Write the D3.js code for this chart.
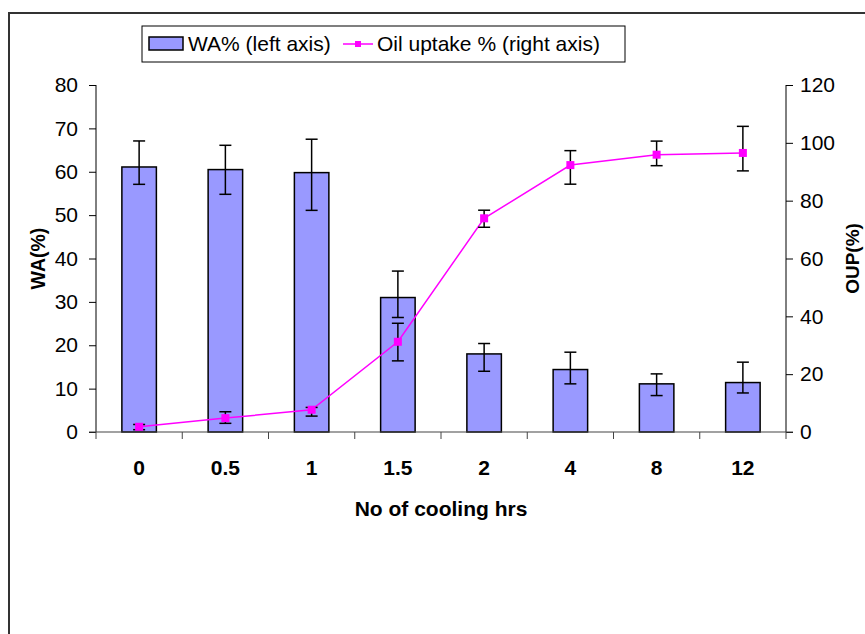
<!DOCTYPE html>
<html>
<head>
<meta charset="utf-8">
<script src="https://cdn.jsdelivr.net/npm/d3@7"></script>
<style>
  html, body { margin: 0; padding: 0; background: #fff; }
  svg { display: block; }
  text { font-family: Arial, "Liberation Sans", sans-serif; }
</style>
</head>
<body>
<script>
// ---- data ----
const categories = ["0", "0.5", "1", "1.5", "2", "4", "8", "12"];
const waValues = [61.1, 60.5, 59.8, 31.0, 18.0, 14.4, 11.1, 11.4];
const waErrPlus = [6.0, 5.6, 7.7, 6.1, 2.4, 4.0, 2.3, 4.7];
const waErrMinus = [4.0, 5.7, 8.7, 4.6, 4.0, 3.3, 2.7, 2.4];
const oupValues = [1.8, 4.8, 7.7, 31.2, 73.9, 92.3, 95.9, 96.5];
const oupErrPlus = [0.8, 2.2, 0.8, 6.4, 2.8, 5.0, 4.7, 9.2];
const oupErrMinus = [1.0, 1.8, 2.2, 6.6, 3.1, 6.6, 3.8, 6.2];
const leftTicks = [0, 10, 20, 30, 40, 50, 60, 70, 80];
const rightTicks = [0, 20, 40, 60, 80, 100, 120];
const legendLabels = ["WA% (left axis)", "Oil uptake % (right axis)"];
const xTitle = "No of cooling hrs";
const yLeftTitle = "WA(%)";
const yRightTitle = "OUP(%)";

// ---- layout ----
const W = 865, H = 634;
const plot = { left: 96, right: 786, top: 85, bottom: 432 };
const barColor = "#9999FF", lineColor = "#FF00FF";
const FS = 21;

const svg = d3.select("body").append("svg").attr("width", W).attr("height", H);

// outer frame (extends past right/bottom edges)
svg.append("path")
  .attr("d", `M9,${H + 5} L9,13 L${W + 5},13`)
  .attr("fill", "none").attr("stroke", "#333").attr("stroke-width", 2);

const xc = d3.scaleBand().domain(categories).range([plot.left, plot.right]).padding(0);
const yL = d3.scaleLinear().domain([0, 80]).range([plot.bottom, plot.top]);
const yR = d3.scaleLinear().domain([0, 120]).range([plot.bottom, plot.top]);
const cx = d => xc(d) + xc.bandwidth() / 2;
const bw = xc.bandwidth() * 0.4;

// bars
svg.append("g").selectAll("rect").data(categories).join("rect")
  .attr("x", d => cx(d) - bw / 2)
  .attr("y", (d, i) => yL(waValues[i]))
  .attr("width", bw)
  .attr("height", (d, i) => yL(0) - yL(waValues[i]))
  .attr("fill", barColor).attr("stroke", "#000").attr("stroke-width", 1.5);

// axes
const axisStyle = g => {
  g.selectAll("path").attr("stroke", "#000");
  g.selectAll("line").attr("stroke", "#000");
  g.selectAll("text").attr("font-size", FS).attr("fill", "#000");
};
svg.append("g").attr("transform", `translate(${plot.left},0)`)
  .call(d3.axisLeft(yL).tickValues(leftTicks).tickSize(7).tickSizeOuter(0).tickPadding(11))
  .call(axisStyle).call(g => g.select(".domain").attr("d", `M0,${plot.top}V${plot.bottom}`));
svg.append("g").attr("transform", `translate(${plot.right},0)`)
  .call(d3.axisRight(yR).tickValues(rightTicks).tickSize(7).tickSizeOuter(0).tickPadding(7))
  .call(axisStyle).call(g => g.select(".domain").attr("d", `M0,${plot.top}V${plot.bottom}`));

// x baseline and category boundary ticks
const xg = svg.append("g");
xg.append("line").attr("x1", plot.left - 7).attr("x2", plot.right + 7).attr("y1", plot.bottom).attr("y2", plot.bottom)
  .attr("stroke", "#444").attr("stroke-width", 1.2);
const bounds = categories.map(d => xc(d)).concat([plot.right]);
xg.selectAll("line.tk").data(bounds).join("line").attr("class", "tk")
  .attr("x1", d => d).attr("x2", d => d).attr("y1", plot.bottom).attr("y2", plot.bottom + 7)
  .attr("stroke", "#444");
xg.selectAll("text").data(categories).join("text")
  .attr("x", d => cx(d)).attr("y", plot.bottom + 43)
  .attr("text-anchor", "middle").attr("font-size", FS).attr("font-weight", "bold").text(d => d);

// WA error bars
const cap = 6;
const eb = svg.append("g").attr("stroke", "#000").attr("stroke-width", 1.5);
categories.forEach((d, i) => {
  const xx = cx(d), hi = yL(waValues[i] + waErrPlus[i]), lo = yL(waValues[i] - waErrMinus[i]);
  eb.append("line").attr("x1", xx).attr("x2", xx).attr("y1", hi).attr("y2", lo);
  eb.append("line").attr("x1", xx - cap).attr("x2", xx + cap).attr("y1", hi).attr("y2", hi);
  eb.append("line").attr("x1", xx - cap).attr("x2", xx + cap).attr("y1", lo).attr("y2", lo);
});

// OUP line
const line = d3.line().x((d, i) => cx(categories[i])).y(d => yR(d));
svg.append("path").datum(oupValues).attr("d", line)
  .attr("fill", "none").attr("stroke", lineColor).attr("stroke-width", 1.5);

// OUP error bars
const eb2 = svg.append("g").attr("stroke", "#000").attr("stroke-width", 1.5);
categories.forEach((d, i) => {
  const xx = cx(d), hi = yR(oupValues[i] + oupErrPlus[i]), lo = yR(oupValues[i] - oupErrMinus[i]);
  eb2.append("line").attr("x1", xx).attr("x2", xx).attr("y1", hi).attr("y2", lo);
  eb2.append("line").attr("x1", xx - cap).attr("x2", xx + cap).attr("y1", hi).attr("y2", hi);
  eb2.append("line").attr("x1", xx - cap).attr("x2", xx + cap).attr("y1", lo).attr("y2", lo);
});

// OUP markers
svg.append("g").selectAll("rect").data(oupValues).join("rect")
  .attr("x", (d, i) => cx(categories[i]) - 4).attr("y", d => yR(d) - 4)
  .attr("width", 8).attr("height", 8).attr("fill", lineColor);

// axis titles
svg.append("text").attr("x", (plot.left + plot.right) / 2).attr("y", 516)
  .attr("text-anchor", "middle").attr("font-size", FS).attr("font-weight", "bold").text(xTitle);
svg.append("text").attr("transform", `translate(45,${(plot.top + plot.bottom) / 2}) rotate(-90)`)
  .attr("text-anchor", "middle").attr("font-size", 19.5).attr("font-weight", "bold").text(yLeftTitle);
svg.append("text").attr("transform", `translate(859,${(plot.top + plot.bottom) / 2}) rotate(-90)`)
  .attr("text-anchor", "middle").attr("font-size", 19).attr("font-weight", "bold").text(yRightTitle);

// legend
const lg = svg.append("g");
lg.append("rect").attr("x", 142).attr("y", 26).attr("width", 483).attr("height", 36)
  .attr("fill", "#fff").attr("stroke", "#000").attr("stroke-width", 1);
lg.append("rect").attr("x", 149).attr("y", 37).attr("width", 34).attr("height", 13)
  .attr("fill", barColor).attr("stroke", "#000").attr("stroke-width", 1.5);
lg.append("text").attr("x", 188).attr("y", 51).attr("font-size", FS).text(legendLabels[0]);
lg.append("line").attr("x1", 343).attr("x2", 373).attr("y1", 44).attr("y2", 44)
  .attr("stroke", lineColor).attr("stroke-width", 1.5);
lg.append("rect").attr("x", 355).attr("y", 41).attr("width", 6).attr("height", 6).attr("fill", lineColor);
lg.append("text").attr("x", 377).attr("y", 51).attr("font-size", FS).text(legendLabels[1]);
</script>
</body>
</html>
